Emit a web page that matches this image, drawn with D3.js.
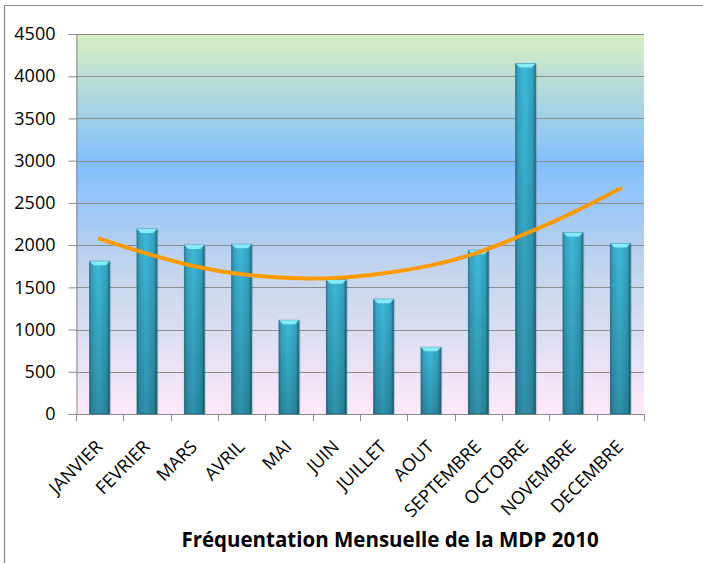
<!DOCTYPE html>
<html><head><meta charset="utf-8">
<script src="https://cdn.jsdelivr.net/npm/d3@7"></script>
<style>
html,body{margin:0;padding:0;background:#fff;}
svg{display:block;}
text{font-family:"Open Sans",sans-serif;fill:#000;}
</style></head>
<body>
<script>
const months = ["JANVIER","FEVRIER","MARS","AVRIL","MAI","JUIN","JUILLET","AOUT","SEPTEMBRE","OCTOBRE","NOVEMBRE","DECEMBRE"];
const visits = [1810, 2190, 2000, 2010, 1110, 1590, 1360, 790, 1940, 4150, 2150, 2020];
const trend = [2075, 1900, 1750, 1655, 1610, 1612, 1668, 1760, 1915, 2135, 2385, 2670];
const yTicks = [0, 500, 1000, 1500, 2000, 2500, 3000, 3500, 4000, 4500];
const title = "Fréquentation Mensuelle de la MDP 2010";

const W = 703, H = 563;
const m = {left: 76, right: 59, top: 34, bottom: 149};
const svg = d3.select("body").append("svg").attr("width", W).attr("height", H);

const defs = svg.append("defs");
const bg = defs.append("linearGradient").attr("id","bg").attr("x1",0).attr("y1",0).attr("x2",0).attr("y2",1);
[[0,"#d9efc2"],[0.34,"#82bffd"],[0.62,"#c3d5ec"],[1,"#fde9f8"]].forEach(s=>bg.append("stop").attr("offset",s[0]).attr("stop-color",s[1]));
const bh = defs.append("linearGradient").attr("id","barH").attr("x1",0).attr("y1",0).attr("x2",1).attr("y2",0);
[[0,"#2a7f97"],[0.12,"#34a6c4"],[0.45,"#3dbadb"],[0.85,"#33a3c1"],[1,"#1f6a80"]].forEach(s=>bh.append("stop").attr("offset",s[0]).attr("stop-color",s[1]));
const bv = defs.append("linearGradient").attr("id","barV").attr("x1",0).attr("y1",0).attr("x2",0).attr("y2",1);
[[0,"#000",0],[1,"#000",0.22]].forEach(s=>bv.append("stop").attr("offset",s[0]).attr("stop-color",s[1]).attr("stop-opacity",s[2]));

// outer border
svg.append("path").attr("d",`M4.5,${H} V5.5 H${W}`).attr("fill","none").attr("stroke","#8a8a8a").attr("stroke-width",1.2);

const x = d3.scaleBand().domain(months).range([m.left, W - m.right]).paddingInner(0.577).paddingOuter(0.2885);
const y = d3.scaleLinear().domain([0, 4500]).range([H - m.bottom, m.top]);
const x0 = m.left, x1 = W - m.right, y0 = y(0), yTop = y(4500);

svg.append("rect").attr("x",x0).attr("y",yTop).attr("width",x1-x0).attr("height",y0-yTop).attr("fill","url(#bg)");

// gridlines
svg.append("g").selectAll("line").data(yTicks.filter(d=>d>0)).join("line")
  .attr("x1",x0).attr("x2",x1).attr("y1",d=>Math.round(y(d))+0.5).attr("y2",d=>Math.round(y(d))+0.5)
  .attr("stroke","#8c8c8c").attr("stroke-width",1);

// y axis
const yAxis = svg.append("g").attr("transform",`translate(${x0+0.5},0)`)
  .call(d3.axisLeft(y).tickValues(yTicks).tickSize(8).tickPadding(13).tickFormat(d3.format("d")));
yAxis.select(".domain").attr("stroke","#8c8c8c");
yAxis.selectAll(".tick line").attr("stroke","#8c8c8c");
yAxis.selectAll("text").style("font-size","18px").style("font-family","'Open Sans',sans-serif").attr("fill","#000");

// x axis line + ticks at boundaries
const step = x.step();
const bounds = d3.range(months.length + 1).map(i => x0 + i * step);
svg.append("line").attr("x1",x0).attr("x2",x1).attr("y1",Math.round(y0)+0.5).attr("y2",Math.round(y0)+0.5).attr("stroke","#8c8c8c");
svg.append("g").selectAll("line").data(bounds).join("line")
  .attr("x1",d=>Math.round(d)+0.5).attr("x2",d=>Math.round(d)+0.5).attr("y1",y0).attr("y2",y0+7)
  .attr("stroke","#8c8c8c");

// bars
const bars = svg.append("g").selectAll("g").data(months).join("g");
bars.append("rect").attr("x",d=>x(d)+1.5).attr("y",(d,i)=>y(visits[i])+1).attr("width",x.bandwidth()).attr("height",(d,i)=>y0-y(visits[i])-1)
  .attr("fill","#000").attr("opacity",0.12);
bars.append("rect").attr("x",d=>x(d)).attr("y",(d,i)=>y(visits[i])).attr("width",x.bandwidth()).attr("height",(d,i)=>y0-y(visits[i]))
  .attr("fill","url(#barH)").attr("stroke","#23768d").attr("stroke-width",0.8);
bars.append("rect").attr("x",d=>x(d)).attr("y",(d,i)=>y(visits[i])).attr("width",x.bandwidth()).attr("height",(d,i)=>y0-y(visits[i]))
  .attr("fill","url(#barV)");
bars.append("path").attr("d",(d,i)=>{
  const bx = x(d), by = y(visits[i]), bw = x.bandwidth();
  return `M${bx},${by} H${bx+bw} L${bx+bw-4},${by+4} H${bx+4} Z`;
}).attr("fill","#86ecfb");

// trend line
const line = d3.line().x((d,i)=>x(months[i]) + x.bandwidth()/2).y(d=>y(d)).curve(d3.curveNatural);
svg.append("path").datum(trend).attr("d",line).attr("fill","none").attr("stroke","#ff9a00").attr("stroke-width",4).attr("stroke-linecap","round");

// x labels
svg.append("g").selectAll("text").data(months).join("text")
  .attr("transform",d=>`translate(${x(d)+x.bandwidth()/2-5},${y0+25}) rotate(-45)`)
  .attr("text-anchor","end").attr("dy","0.7em")
  .style("font-size","18px").text(d=>d);

// title
svg.append("text").attr("x",390).attr("y",547).attr("text-anchor","middle")
  .style("font-size","20.5px").style("font-weight","bold").text(title);
</script>
</body></html>
